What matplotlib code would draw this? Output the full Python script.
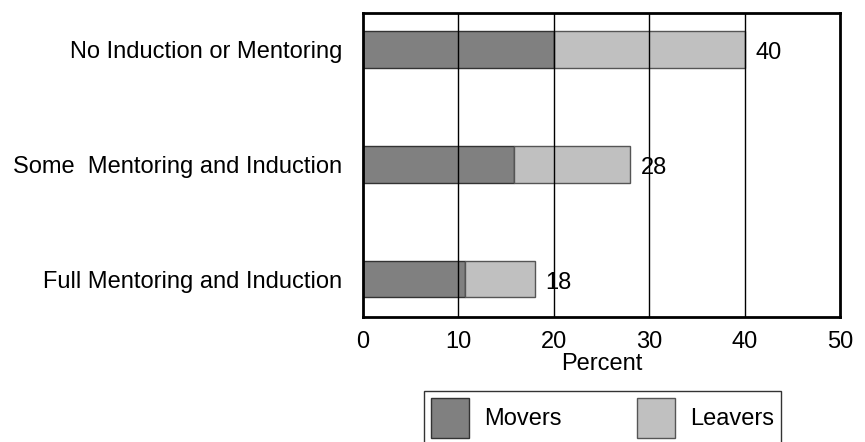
import matplotlib.pyplot as plt
from matplotlib.patches import Patch

plt.rcParams['font.family'] = ['Liberation Sans', 'DejaVu Sans']

categories = ['No Induction or Mentoring', 'Some  Mentoring and Induction', 'Full Mentoring and Induction']
movers = [20.0, 15.8, 10.7]
leavers = [20.0, 12.2, 7.3]
totals = [40, 28, 18]
xticks = [0, 10, 20, 30, 40, 50]

fs = 17

fig = plt.figure(figsize=(8.65, 4.42), dpi=100)
ax = fig.add_axes([363 / 865, 1 - 317 / 442, 477 / 865, 304 / 442])

pos = list(range(len(categories)))
ax.barh(pos, movers, height=0.32, color='#808080', edgecolor='#333333', linewidth=1, zorder=2)
ax.barh(pos, leavers, left=movers, height=0.32, color='#c0c0c0', edgecolor='#555555', linewidth=1, zorder=2)

for x in xticks[1:-1]:
    ax.axvline(x, color='black', linewidth=1, zorder=3)

for p, m, l, t in zip(pos, movers, leavers, totals):
    ax.text(m + l + 1.1, p + 0.03, str(t), va='center', ha='left', fontsize=fs)

ax.set_xlim(0, 50)
ax.set_ylim(2.33, -0.32)
ax.set_xticks(xticks)
ax.set_yticks(pos)
ax.set_yticklabels(categories)
ax.tick_params(length=0, labelsize=fs)
ax.tick_params(axis='y', pad=15)
ax.tick_params(axis='x', pad=10)
ax.set_xlabel('Percent', fontsize=fs, labelpad=0)
for s in ax.spines.values():
    s.set_linewidth(2)

handles = [Patch(facecolor='#808080', edgecolor='#333333', label='Movers'),
           Patch(facecolor='#c0c0c0', edgecolor='#555555', label='Leavers')]
leg = fig.legend(handles=handles, loc='upper left', bbox_to_anchor=(424 / 865, 1 - 391 / 442),
                 ncol=2, fontsize=fs, frameon=True, fancybox=False, edgecolor='black',
                 handlelength=1.6, handleheight=2.23, columnspacing=3.2, borderpad=0.3,
                 handletextpad=0.65, borderaxespad=0)
leg.get_frame().set_linewidth(1)

fig.savefig('out.png', dpi=100)
